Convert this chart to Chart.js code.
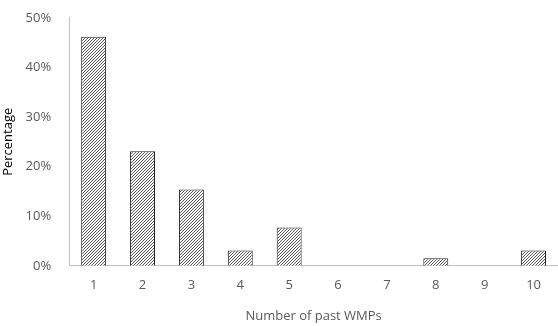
<!DOCTYPE html>
<html><head><meta charset="utf-8">
<script src="https://cdn.jsdelivr.net/npm/chart.js@4"></script>
<style>html,body{margin:0;padding:0;background:#fff}#wrap{width:558px;height:326px}</style>
</head><body><div id="wrap"><canvas id="c"></canvas></div>
<script>
const categories = ["1","2","3","4","5","6","7","8","9","10"];
const percentages = [46.2, 23.1, 15.4, 3.1, 7.7, 0, 0, 1.5, 0, 3.1];
const yTicks = [0, 10, 20, 30, 40, 50];

function hatch(){
  const p = document.createElement('canvas');
  p.width = 3; p.height = 3;
  const g = p.getContext('2d');
  g.fillStyle = '#ffffff'; g.fillRect(0,0,3,3);
  g.strokeStyle = '#444444'; g.lineWidth = 0.9;
  g.beginPath();
  g.moveTo(0,3); g.lineTo(3,0);
  g.moveTo(-1,1); g.lineTo(1,-1);
  g.moveTo(2,4); g.lineTo(4,2);
  g.stroke();
  return g.createPattern(p,'repeat');
}
const font = {family:"'Open Sans', sans-serif", size:13};
new Chart(document.getElementById('c'), {
  type:'bar',
  data:{labels:categories, datasets:[{data:percentages, backgroundColor:hatch(), borderColor:'#222', borderWidth:1, barPercentage:0.51, categoryPercentage:1}]},
  options:{
    responsive:true, maintainAspectRatio:false, animation:false,
    layout:{padding:{top:12,right:0,left:0,bottom:2}},
    plugins:{legend:{display:false}, tooltip:{enabled:false}},
    scales:{
      x:{grid:{display:false}, border:{display:true,color:'#bfbfbf'},
         ticks:{color:'#595959', font:font, padding:4},
         title:{display:true, text:'Number of past WMPs', color:'#595959', font:font, padding:{top:11,bottom:0}}},
      y:{min:0, max:50, grid:{display:false}, border:{display:true,color:'#bfbfbf'},
         afterBuildTicks:(a)=>{a.ticks = yTicks.map(v=>({value:v}));},
         ticks:{color:'#595959', font:font, padding:10, callback:v=>v+'%'},
         title:{display:true, text:'Percentage', color:'#000', font:{family:"'Open Sans', sans-serif", size:13}, padding:{top:0,bottom:0}}}
    }
  }
});
</script></body></html>
